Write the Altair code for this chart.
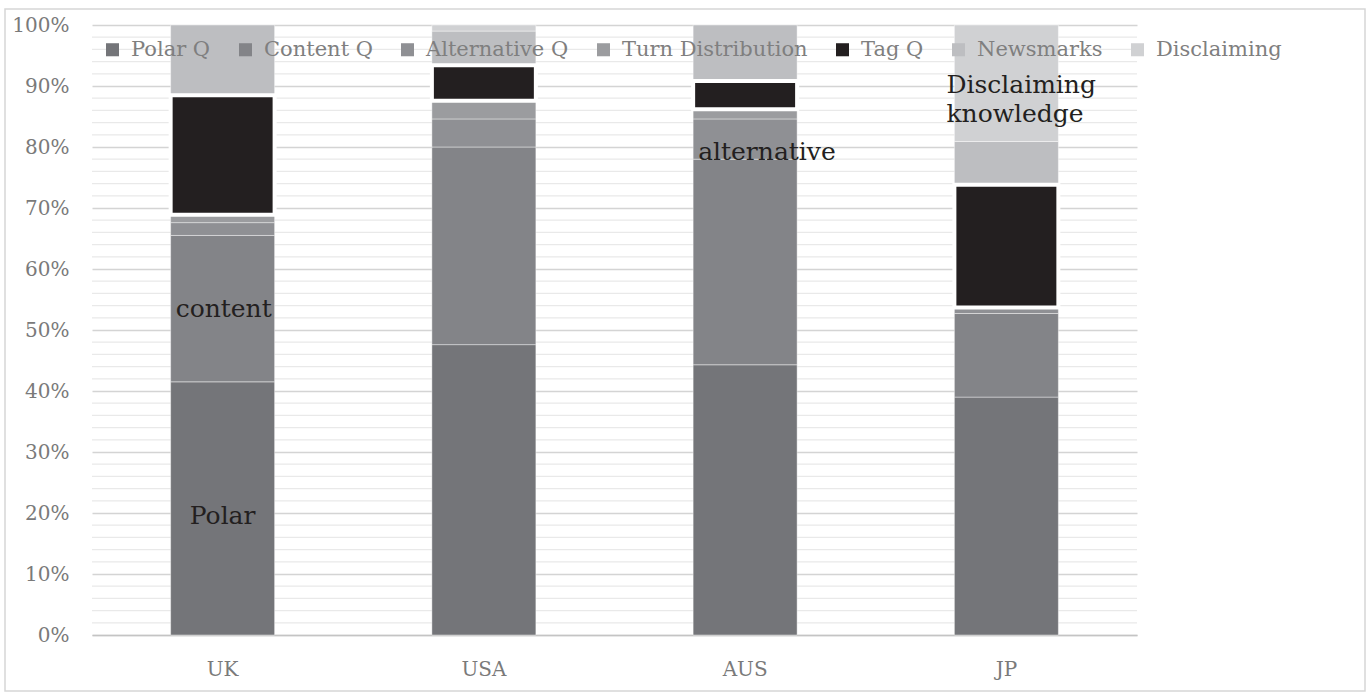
import altair as alt
import pandas as pd

# Share of question types per variety of English / Japanese (percent of all questions)
countries = ["UK", "USA", "AUS", "JP"]
series = ["Polar Q", "Content Q", "Alternative Q", "Turn Distribution",
          "Tag Q", "Newsmarks", "Disclaiming"]

polar_q = [41.5, 47.6, 44.3, 39.0]
content_q = [24.0, 32.4, 33.7, 13.7]
alternative_q = [2.1, 4.6, 6.6, 1.0]
turn_distribution = [1.3, 3.0, 1.6, 0.0]
tag_q = [19.6, 5.8, 4.6, 20.1]
newsmarks = [11.5, 5.6, 9.2, 7.1]
disclaiming = [0.0, 1.0, 0.0, 19.1]

colors = ["#747579", "#838488", "#8f9094", "#9b9c9f",
          "#231f20", "#bdbec1", "#d0d1d3"]

values = [polar_q, content_q, alternative_q, turn_distribution,
          tag_q, newsmarks, disclaiming]

rows = []
for i, (name, vals) in enumerate(zip(series, values)):
    for country, v in zip(countries, vals):
        rows.append({"country": country, "series": name, "order": i, "value": v})
df = pd.DataFrame(rows)

FONT = "DejaVu Serif"
LABEL_GRAY = "#7a7a7a"
INK = "#231f20"

# light 2% gridlines between the labelled 10% lines
minor = pd.DataFrame({"v": [k / 100 for k in range(2, 100, 2) if k % 10 != 0]})

x_scale = alt.Scale(domain=countries, paddingInner=0.602, paddingOuter=0.301)
x_enc = alt.X(
    "country:N",
    scale=x_scale,
    axis=alt.Axis(title=None, labelAngle=0, ticks=False, domainColor="#c4c4c4",
                  domainWidth=1.5, labelPadding=24, grid=False),
)
y_scale = alt.Scale(domain=[0, 1], nice=False, zero=True)

stacked = (
    alt.Chart(df)
    .transform_stack(
        stack="value",
        groupby=["country"],
        sort=[alt.SortField("order", order="ascending")],
        offset="normalize",
        as_=["y0", "y1"],
    )
    .transform_filter(alt.datum.value > 0)
)

color_enc = alt.Color(
    "series:N",
    scale=alt.Scale(domain=series, range=colors),
    legend=alt.Legend(
        title=None, orient="none", legendX=10, legendY=14, direction="horizontal",
        columns=7, symbolType="square", symbolSize=170, symbolStrokeWidth=0,
        labelFont=FONT, labelFontSize=21, labelColor="#7f7f7f", labelLimit=0,
        columnPadding=24, labelOffset=8,
    ),
)

minor_rules = alt.Chart(minor).mark_rule(color="#e9e9e9", strokeWidth=1.2).encode(
    y=alt.Y("v:Q", scale=y_scale),
)

bars = stacked.mark_bar(stroke="#ffffff", strokeWidth=0.6, strokeOpacity=0.7).encode(
    x=x_enc,
    y=alt.Y(
        "y0:Q", scale=y_scale,
        axis=alt.Axis(title=None, format=".0%", values=[k / 10 for k in range(11)],
                      domain=False, ticks=False, labelPadding=23,
                      gridColor="#d4d4d4", gridWidth=1.3),
    ),
    y2="y1:Q",
    color=color_enc,
)

tag_bars = (
    stacked.transform_filter(alt.datum.series == "Tag Q")
    .mark_bar(stroke="#ffffff", strokeWidth=4)
    .encode(x=x_enc, y=alt.Y("y0:Q", scale=y_scale), y2="y1:Q", color=color_enc)
)


def note(text, country, level, align, dx):
    return alt.Chart(pd.DataFrame({"c": [country], "l": [level]})).mark_text(
        text=text, font=FONT, fontSize=25, color=INK, align=align,
        baseline="alphabetic", dx=dx,
    ).encode(x=alt.X("c:N", scale=x_scale), y=alt.Y("l:Q", scale=y_scale))


notes = [
    note("Polar", "UK", 0.182, "center", 0),
    note("content", "UK", 0.522, "left", -47),
    note("alternative", "AUS", 0.779, "left", -47),
    note("Disclaiming", "JP", 0.888, "left", -60),
    note("knowledge", "JP", 0.841, "left", -60),
]

frame = alt.Chart(pd.DataFrame({"a": [0]})).mark_rect(
    fill="transparent", stroke="#d6d6d6", strokeWidth=1.5, clip=False
).encode(
    x=alt.value(-87), x2=alt.value(1273), y=alt.value(-16), y2=alt.value(666)
)

chart = (
    alt.layer(minor_rules, bars, tag_bars, *notes, frame)
    .properties(
        width=1045, height=610,
        autosize=alt.AutoSizeParams(type="none"),
        padding={"left": 92, "top": 25, "right": 233, "bottom": 60},
        background="white",
    )
    .configure_view(stroke=None)
    .configure_axis(labelFont=FONT, labelFontSize=20, labelColor=LABEL_GRAY)
)

chart.save("out.html", embed_options={"renderer": "svg", "actions": False})
